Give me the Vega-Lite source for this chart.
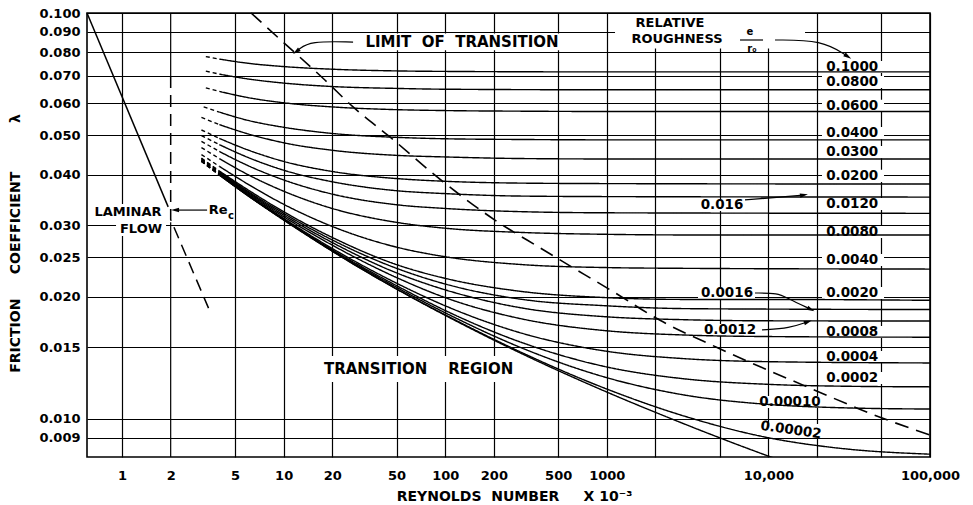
{
"$schema":"https://vega.github.io/schema/vega-lite/v6.json",
"width":843,"height":444,
"autosize":{"type":"none"},
"padding":{"left":87,"top":13,"right":43,"bottom":48},
"background":"white",
"config":{"view":{"stroke":"black","strokeWidth":1.6},"font":"DejaVu Sans","text":{"font":"DejaVu Sans","color":"black"}},
"datasets":{
"curves":[
{"eps":"0.1","part":"d","R":3.3,"lam":0.0781},{"eps":"0.1","part":"d","R":4,"lam":0.0770},
{"eps":"0.1","part":"s","R":4,"lam":0.0770},{"eps":"0.1","part":"s","R":6,"lam":0.0752},{"eps":"0.1","part":"s","R":10,"lam":0.0738},{"eps":"0.1","part":"s","R":20,"lam":0.0727},{"eps":"0.1","part":"s","R":50,"lam":0.0720},{"eps":"0.1","part":"s","R":100,"lam":0.0718},{"eps":"0.1","part":"s","R":1000,"lam":0.0716},{"eps":"0.1","part":"s","R":100000,"lam":0.0716},
{"eps":"0.08","part":"d","R":3.3,"lam":0.0719},{"eps":"0.08","part":"d","R":4,"lam":0.0707},
{"eps":"0.08","part":"s","R":4,"lam":0.0707},{"eps":"0.08","part":"s","R":6,"lam":0.0688},{"eps":"0.08","part":"s","R":10,"lam":0.0672},{"eps":"0.08","part":"s","R":20,"lam":0.0659},{"eps":"0.08","part":"s","R":50,"lam":0.0652},{"eps":"0.08","part":"s","R":100,"lam":0.0649},{"eps":"0.08","part":"s","R":1000,"lam":0.0647},{"eps":"0.08","part":"s","R":100000,"lam":0.0647},
{"eps":"0.06","part":"d","R":3.3,"lam":0.0654},{"eps":"0.06","part":"d","R":4,"lam":0.0641},
{"eps":"0.06","part":"s","R":4,"lam":0.0641},{"eps":"0.06","part":"s","R":6,"lam":0.0619},{"eps":"0.06","part":"s","R":10,"lam":0.0601},{"eps":"0.06","part":"s","R":20,"lam":0.0587},{"eps":"0.06","part":"s","R":50,"lam":0.0578},{"eps":"0.06","part":"s","R":100,"lam":0.0575},{"eps":"0.06","part":"s","R":300,"lam":0.0573},{"eps":"0.06","part":"s","R":1000,"lam":0.0572},{"eps":"0.06","part":"s","R":100000,"lam":0.0572},
{"eps":"0.04","part":"d","R":3.2,"lam":0.0587},{"eps":"0.04","part":"d","R":4,"lam":0.0570},
{"eps":"0.04","part":"s","R":4,"lam":0.0570},{"eps":"0.04","part":"s","R":6,"lam":0.0544},{"eps":"0.04","part":"s","R":10,"lam":0.0523},{"eps":"0.04","part":"s","R":20,"lam":0.0505},{"eps":"0.04","part":"s","R":50,"lam":0.0494},{"eps":"0.04","part":"s","R":100,"lam":0.0490},{"eps":"0.04","part":"s","R":300,"lam":0.0488},{"eps":"0.04","part":"s","R":1000,"lam":0.0487},{"eps":"0.04","part":"s","R":100000,"lam":0.0487},
{"eps":"0.03","part":"d","R":3.1,"lam":0.0553},{"eps":"0.03","part":"d","R":4,"lam":0.0531},
{"eps":"0.03","part":"s","R":4,"lam":0.0531},{"eps":"0.03","part":"s","R":6,"lam":0.0504},{"eps":"0.03","part":"s","R":10,"lam":0.0479},{"eps":"0.03","part":"s","R":20,"lam":0.0459},{"eps":"0.03","part":"s","R":50,"lam":0.0446},{"eps":"0.03","part":"s","R":100,"lam":0.0442},{"eps":"0.03","part":"s","R":300,"lam":0.0438},{"eps":"0.03","part":"s","R":1000,"lam":0.0437},{"eps":"0.03","part":"s","R":100000,"lam":0.0437},
{"eps":"0.02","part":"d","R":3.1,"lam":0.0515},{"eps":"0.02","part":"d","R":4,"lam":0.0491},
{"eps":"0.02","part":"s","R":4,"lam":0.0491},{"eps":"0.02","part":"s","R":6,"lam":0.0460},{"eps":"0.02","part":"s","R":10,"lam":0.0431},{"eps":"0.02","part":"s","R":20,"lam":0.0407},{"eps":"0.02","part":"s","R":50,"lam":0.0391},{"eps":"0.02","part":"s","R":100,"lam":0.0385},{"eps":"0.02","part":"s","R":300,"lam":0.0381},{"eps":"0.02","part":"s","R":1000,"lam":0.0380},{"eps":"0.02","part":"s","R":100000,"lam":0.0379},
{"eps":"0.016","part":"d","R":3.1,"lam":0.0499},{"eps":"0.016","part":"d","R":4,"lam":0.0474},
{"eps":"0.016","part":"s","R":4,"lam":0.0474},{"eps":"0.016","part":"s","R":6,"lam":0.0441},{"eps":"0.016","part":"s","R":10,"lam":0.0410},{"eps":"0.016","part":"s","R":20,"lam":0.0384},{"eps":"0.016","part":"s","R":50,"lam":0.0365},{"eps":"0.016","part":"s","R":100,"lam":0.0359},{"eps":"0.016","part":"s","R":300,"lam":0.0354},{"eps":"0.016","part":"s","R":1000,"lam":0.0353},{"eps":"0.016","part":"s","R":100000,"lam":0.0352},
{"eps":"0.012","part":"d","R":3.1,"lam":0.0483},{"eps":"0.012","part":"d","R":4,"lam":0.0456},
{"eps":"0.012","part":"s","R":4,"lam":0.0456},{"eps":"0.012","part":"s","R":6,"lam":0.0421},{"eps":"0.012","part":"s","R":10,"lam":0.0388},{"eps":"0.012","part":"s","R":20,"lam":0.0358},{"eps":"0.012","part":"s","R":50,"lam":0.0337},{"eps":"0.012","part":"s","R":100,"lam":0.0330},{"eps":"0.012","part":"s","R":300,"lam":0.0324},{"eps":"0.012","part":"s","R":1000,"lam":0.0322},{"eps":"0.012","part":"s","R":100000,"lam":0.0321},
{"eps":"0.008","part":"d","R":3.1,"lam":0.0466},{"eps":"0.008","part":"d","R":4,"lam":0.0438},
{"eps":"0.008","part":"s","R":4,"lam":0.0438},{"eps":"0.008","part":"s","R":6,"lam":0.0400},{"eps":"0.008","part":"s","R":10,"lam":0.0364},{"eps":"0.008","part":"s","R":20,"lam":0.0330},{"eps":"0.008","part":"s","R":50,"lam":0.0305},{"eps":"0.008","part":"s","R":100,"lam":0.0295},{"eps":"0.008","part":"s","R":300,"lam":0.0288},{"eps":"0.008","part":"s","R":1000,"lam":0.0285},{"eps":"0.008","part":"s","R":3000,"lam":0.0284},{"eps":"0.008","part":"s","R":100000,"lam":0.0284},
{"eps":"0.004","part":"d","R":3.1,"lam":0.0448},{"eps":"0.004","part":"d","R":4,"lam":0.0419},
{"eps":"0.004","part":"s","R":4,"lam":0.0419},{"eps":"0.004","part":"s","R":6,"lam":0.0379},{"eps":"0.004","part":"s","R":10,"lam":0.0338},{"eps":"0.004","part":"s","R":20,"lam":0.0298},{"eps":"0.004","part":"s","R":50,"lam":0.0265},{"eps":"0.004","part":"s","R":100,"lam":0.0251},{"eps":"0.004","part":"s","R":300,"lam":0.0240},{"eps":"0.004","part":"s","R":1000,"lam":0.0236},{"eps":"0.004","part":"s","R":3000,"lam":0.0235},{"eps":"0.004","part":"s","R":100000,"lam":0.0234},
{"eps":"0.002","part":"d","R":3.1,"lam":0.0439},{"eps":"0.002","part":"d","R":4,"lam":0.0408},
{"eps":"0.002","part":"s","R":4,"lam":0.0408},{"eps":"0.002","part":"s","R":6,"lam":0.0367},{"eps":"0.002","part":"s","R":10,"lam":0.0324},{"eps":"0.002","part":"s","R":20,"lam":0.0280},{"eps":"0.002","part":"s","R":50,"lam":0.0240},{"eps":"0.002","part":"s","R":100,"lam":0.0222},{"eps":"0.002","part":"s","R":300,"lam":0.0206},{"eps":"0.002","part":"s","R":1000,"lam":0.0199},{"eps":"0.002","part":"s","R":3000,"lam":0.0197},{"eps":"0.002","part":"s","R":10000,"lam":0.0197},{"eps":"0.002","part":"s","R":100000,"lam":0.0196},
{"eps":"0.0016","part":"d","R":3.1,"lam":0.0438},{"eps":"0.0016","part":"d","R":4,"lam":0.0407},
{"eps":"0.0016","part":"s","R":4,"lam":0.0407},{"eps":"0.0016","part":"s","R":6,"lam":0.0364},{"eps":"0.0016","part":"s","R":10,"lam":0.0321},{"eps":"0.0016","part":"s","R":20,"lam":0.0276},{"eps":"0.0016","part":"s","R":50,"lam":0.0235},{"eps":"0.0016","part":"s","R":100,"lam":0.0215},{"eps":"0.0016","part":"s","R":300,"lam":0.0197},{"eps":"0.0016","part":"s","R":1000,"lam":0.0190},{"eps":"0.0016","part":"s","R":3000,"lam":0.0187},{"eps":"0.0016","part":"s","R":10000,"lam":0.01865},{"eps":"0.0016","part":"s","R":100000,"lam":0.0186},
{"eps":"0.0012","part":"d","R":3.1,"lam":0.0436},{"eps":"0.0012","part":"d","R":4,"lam":0.0405},
{"eps":"0.0012","part":"s","R":4,"lam":0.0405},{"eps":"0.0012","part":"s","R":6,"lam":0.0362},{"eps":"0.0012","part":"s","R":10,"lam":0.0318},{"eps":"0.0012","part":"s","R":20,"lam":0.0272},{"eps":"0.0012","part":"s","R":50,"lam":0.0229},{"eps":"0.0012","part":"s","R":100,"lam":0.0208},{"eps":"0.0012","part":"s","R":300,"lam":0.01876},{"eps":"0.0012","part":"s","R":1000,"lam":0.01785},{"eps":"0.0012","part":"s","R":3000,"lam":0.01756},{"eps":"0.0012","part":"s","R":10000,"lam":0.01745},{"eps":"0.0012","part":"s","R":100000,"lam":0.01743},
{"eps":"0.0008","part":"d","R":3.1,"lam":0.0435},{"eps":"0.0008","part":"d","R":4,"lam":0.0403},
{"eps":"0.0008","part":"s","R":4,"lam":0.0403},{"eps":"0.0008","part":"s","R":6,"lam":0.0360},{"eps":"0.0008","part":"s","R":10,"lam":0.0315},{"eps":"0.0008","part":"s","R":20,"lam":0.0268},{"eps":"0.0008","part":"s","R":50,"lam":0.0223},{"eps":"0.0008","part":"s","R":100,"lam":0.0199},{"eps":"0.0008","part":"s","R":300,"lam":0.01763},{"eps":"0.0008","part":"s","R":1000,"lam":0.01649},{"eps":"0.0008","part":"s","R":3000,"lam":0.0161},{"eps":"0.0008","part":"s","R":10000,"lam":0.01596},{"eps":"0.0008","part":"s","R":100000,"lam":0.0159},
{"eps":"0.0004","part":"d","R":3.1,"lam":0.0433},{"eps":"0.0004","part":"d","R":4,"lam":0.0401},
{"eps":"0.0004","part":"s","R":4,"lam":0.0401},{"eps":"0.0004","part":"s","R":6,"lam":0.0358},{"eps":"0.0004","part":"s","R":10,"lam":0.0312},{"eps":"0.0004","part":"s","R":20,"lam":0.0263},{"eps":"0.0004","part":"s","R":50,"lam":0.0216},{"eps":"0.0004","part":"s","R":100,"lam":0.0190},{"eps":"0.0004","part":"s","R":300,"lam":0.01625},{"eps":"0.0004","part":"s","R":1000,"lam":0.01468},{"eps":"0.0004","part":"s","R":3000,"lam":0.01408},{"eps":"0.0004","part":"s","R":10000,"lam":0.01384},{"eps":"0.0004","part":"s","R":100000,"lam":0.01374},
{"eps":"0.0002","part":"d","R":3.1,"lam":0.0432},{"eps":"0.0002","part":"d","R":4,"lam":0.0400},
{"eps":"0.0002","part":"s","R":4,"lam":0.0400},{"eps":"0.0002","part":"s","R":6,"lam":0.0356},{"eps":"0.0002","part":"s","R":10,"lam":0.0310},{"eps":"0.0002","part":"s","R":20,"lam":0.0261},{"eps":"0.0002","part":"s","R":50,"lam":0.0213},{"eps":"0.0002","part":"s","R":100,"lam":0.0185},{"eps":"0.0002","part":"s","R":300,"lam":0.01541},{"eps":"0.0002","part":"s","R":1000,"lam":0.01343},{"eps":"0.0002","part":"s","R":3000,"lam":0.01256},{"eps":"0.0002","part":"s","R":10000,"lam":0.01217},{"eps":"0.0002","part":"s","R":30000,"lam":0.01204},{"eps":"0.0002","part":"s","R":100000,"lam":0.0120},
{"eps":"0.0001","part":"d","R":3.1,"lam":0.0432},{"eps":"0.0001","part":"d","R":4,"lam":0.0400},
{"eps":"0.0001","part":"s","R":4,"lam":0.0400},{"eps":"0.0001","part":"s","R":6,"lam":0.0356},{"eps":"0.0001","part":"s","R":10,"lam":0.0310},{"eps":"0.0001","part":"s","R":20,"lam":0.0260},{"eps":"0.0001","part":"s","R":50,"lam":0.0211},{"eps":"0.0001","part":"s","R":100,"lam":0.01826},{"eps":"0.0001","part":"s","R":300,"lam":0.01494},{"eps":"0.0001","part":"s","R":1000,"lam":0.01264},{"eps":"0.0001","part":"s","R":3000,"lam":0.01146},{"eps":"0.0001","part":"s","R":10000,"lam":0.01086},{"eps":"0.0001","part":"s","R":30000,"lam":0.01065},{"eps":"0.0001","part":"s","R":100000,"lam":0.01058},
{"eps":"0.00002","part":"d","R":3.1,"lam":0.0431},{"eps":"0.00002","part":"d","R":4,"lam":0.0399},
{"eps":"0.00002","part":"s","R":4,"lam":0.0399},{"eps":"0.00002","part":"s","R":6,"lam":0.0355},{"eps":"0.00002","part":"s","R":10,"lam":0.0310},{"eps":"0.00002","part":"s","R":20,"lam":0.0259},{"eps":"0.00002","part":"s","R":50,"lam":0.0209},{"eps":"0.00002","part":"s","R":100,"lam":0.01805},{"eps":"0.00002","part":"s","R":300,"lam":0.01455},{"eps":"0.00002","part":"s","R":1000,"lam":0.01185},{"eps":"0.00002","part":"s","R":3000,"lam":0.01017},{"eps":"0.00002","part":"s","R":10000,"lam":0.00899},{"eps":"0.00002","part":"s","R":30000,"lam":0.00844},{"eps":"0.00002","part":"s","R":100000,"lam":0.00819},
{"eps":"smooth","part":"d","R":3.1,"lam":0.0431},{"eps":"smooth","part":"d","R":4,"lam":0.0399},
{"eps":"smooth","part":"s","R":4,"lam":0.0399},{"eps":"smooth","part":"s","R":6,"lam":0.0355},{"eps":"smooth","part":"s","R":10,"lam":0.0309},{"eps":"smooth","part":"s","R":20,"lam":0.0259},{"eps":"smooth","part":"s","R":50,"lam":0.0209},{"eps":"smooth","part":"s","R":100,"lam":0.0180},{"eps":"smooth","part":"s","R":300,"lam":0.01446},{"eps":"smooth","part":"s","R":1000,"lam":0.01165},{"eps":"smooth","part":"s","R":3000,"lam":0.00973},{"eps":"smooth","part":"s","R":10000,"lam":0.00810},{"eps":"smooth","part":"s","R":12000,"lam":0.00789}
],
"limit":[
{"o":0,"R":6.29,"lam":0.1},{"o":1,"R":9.92,"lam":0.0848},{"o":2,"R":18.0,"lam":0.0684},{"o":3,"R":26.9,"lam":0.0587},{"o":4,"R":45.5,"lam":0.0495},{"o":5,"R":96.9,"lam":0.0384},{"o":6,"R":203,"lam":0.0309},{"o":7,"R":386,"lam":0.0264},{"o":8,"R":492,"lam":0.0249},{"o":9,"R":1092,"lam":0.0206},{"o":10,"R":2134,"lam":0.0175},{"o":11,"R":4809,"lam":0.0150},{"o":12,"R":17330,"lam":0.0120},{"o":13,"R":49060,"lam":0.0101},{"o":14,"R":100000,"lam":0.00913}
],
"rec":[{"o":0,"R":2,"lam":0.07},{"o":1,"R":2,"lam":0.031},{"o":2,"R":3.5,"lam":0.0184}],
"laminar":[{"o":0,"R":0.607,"lam":0.1},{"o":1,"R":1.93,"lam":0.0333}],
"grid2":[{"R":2,"lam":0.07,"lam2":0.1},{"R":2,"lam":0.00806,"lam2":0.0305}],
"boxes":[
{"R":24.0,"R2":636,"lam":0.0809,"lam2":0.0890},
{"R":1124,"R2":16850,"lam":0.0818,"lam2":0.0994},
{"R":13.6,"R2":335,"lam":0.01234,"lam2":0.01429},
{"R":0.616,"R2":1.899,"lam":0.0309,"lam2":0.03386},
{"R":0.918,"R2":1.872,"lam":0.02823,"lam2":0.0309},
{"R":21460,"R2":51930,"lam":0.07116,"lam2":0.07617},
{"R":21460,"R2":51930,"lam":0.06534,"lam2":0.06996},
{"R":21460,"R2":51930,"lam":0.0571,"lam2":0.0611},
{"R":21460,"R2":51930,"lam":0.0489,"lam2":0.0524},
{"R":21460,"R2":51930,"lam":0.0439,"lam2":0.0470},
{"R":21460,"R2":51930,"lam":0.03835,"lam2":0.0411},
{"R":21460,"R2":51930,"lam":0.03271,"lam2":0.0350},
{"R":21460,"R2":51930,"lam":0.02791,"lam2":0.02988},
{"R":21460,"R2":51930,"lam":0.02381,"lam2":0.02549},
{"R":21460,"R2":51930,"lam":0.01975,"lam2":0.02114},
{"R":21460,"R2":51930,"lam":0.01583,"lam2":0.01695},
{"R":21460,"R2":51930,"lam":0.01373,"lam2":0.01470},
{"R":21460,"R2":51930,"lam":0.0122,"lam2":0.01306},
{"R":3773,"R2":7165,"lam":0.03253,"lam2":0.03482},
{"R":3668,"R2":8262,"lam":0.01975,"lam2":0.02114},
{"R":3773,"R2":8872,"lam":0.01601,"lam2":0.01714},
{"R":8262,"R2":22400,"lam":0.01064,"lam2":0.01139},
{"R":8262,"R2":23380,"lam":0.00898,"lam2":0.00972}
],
"arrows":[
{"id":"limit","o":0,"R":26.9,"lam":0.0848},{"id":"limit","o":1,"R":14.57,"lam":0.0853},{"id":"limit","o":2,"R":12.28,"lam":0.0811},
{"id":"rec","o":0,"R":3.36,"lam":0.0327},{"id":"rec","o":1,"R":2.2,"lam":0.0327},
{"id":"bar","o":0,"R":6674,"lam":0.0858},{"id":"bar","o":1,"R":9262,"lam":0.0858},
{"id":"rough","o":0,"R":10986,"lam":0.0858},{"id":"rough","o":1,"R":21460,"lam":0.0858},{"id":"rough","o":2,"R":30650,"lam":0.0784},
{"id":"a016","o":0,"R":7165,"lam":0.03463},{"id":"a016","o":1,"R":16374,"lam":0.0356},
{"id":"a0016","o":0,"R":8260,"lam":0.02043},{"id":"a0016","o":1,"R":11465,"lam":0.02043},{"id":"a0016","o":2,"R":13030,"lam":0.01987},{"id":"a0016","o":3,"R":18090,"lam":0.01866},
{"id":"a0012","o":0,"R":9130,"lam":0.01657},{"id":"a0012","o":1,"R":13605,"lam":0.01675},{"id":"a0012","o":2,"R":17336,"lam":0.01733}
],
"heads":[
{"id":"limit","R":12.1,"lam":0.0806},
{"id":"rec","R":2.16,"lam":0.0327},
{"id":"rough","R":30650,"lam":0.0784},
{"id":"a016","R":16374,"lam":0.0356},
{"id":"a0016","R":18090,"lam":0.01866},
{"id":"a0012","R":17336,"lam":0.01733}
],
"bigtext":[
{"t":"LIMIT\u00a0\u00a0OF\u00a0\u00a0TRANSITION","R":127,"lam":0.0848},
{"t":"TRANSITION\u00a0\u00a0\u00a0\u00a0REGION","R":68.4,"lam":0.01328}
],
"midtext":[
{"t":"RELATIVE","R":2461,"lam":0.0945},
{"t":"ROUGHNESS","R":2719,"lam":0.0863},
{"t":"LAMINAR","R":1.089,"lam":0.03235},
{"t":"FLOW","R":1.31,"lam":0.02938},
{"t":"Re","R":3.93,"lam":0.0327}
],
"smalltext":[
{"t":"c","R":4.73,"lam":0.0316},
{"t":"e","R":7690,"lam":0.0898},
{"t":"r₀","R":7915,"lam":0.0815}
],
"labels":[
{"t":"0.1000","R":33000,"lam":0.0736},
{"t":"0.0800","R":33000,"lam":0.0676},
{"t":"0.0600","R":33000,"lam":0.0590},
{"t":"0.0400","R":33000,"lam":0.0506},
{"t":"0.0300","R":33000,"lam":0.04546},
{"t":"0.0200","R":33000,"lam":0.03968},
{"t":"0.0120","R":33000,"lam":0.03386},
{"t":"0.0080","R":33000,"lam":0.02888},
{"t":"0.0040","R":33000,"lam":0.02464},
{"t":"0.0020","R":33000,"lam":0.02043},
{"t":"0.0008","R":33000,"lam":0.01637},
{"t":"0.0004","R":33000,"lam":0.01421},
{"t":"0.0002","R":33000,"lam":0.01262},
{"t":"0.016","R":5163,"lam":0.03365},
{"t":"0.0016","R":5543,"lam":0.02043},
{"t":"0.0012","R":5786,"lam":0.01657},
{"t":"0.00010","R":13605,"lam":0.01101}
],
"rot":[{"t":"0.00002","R":13800,"lam":0.00939}]
},
"encoding":{
"x":{"field":"R","type":"quantitative","scale":{"type":"log","domain":[0.607,100000],"nice":false,"zero":false},
 "axis":{"values":[1,2,5,10,20,50,100,200,500,1000,2000,5000,10000,20000,50000,100000],
  "labelExpr":"indexof([2000,5000,20000,50000], datum.value) >= 0 ? '' : (datum.value >= 10000 ? format(datum.value, ',') : format(datum.value, 'd'))",
  "grid":true,"gridColor":"black","gridWidth":1.2,
  "gridOpacity":{"condition":{"test":"datum.value == 2","value":0},"value":1},
  "ticks":false,"domain":false,"labelPadding":12,"labelFontSize":13,"labelFontWeight":"bold","labelColor":"black","labelFont":"DejaVu Sans",
  "labelFlush":false,"labelOverlap":false,"labelBound":false,
  "title":"REYNOLDS\u00a0\u00a0NUMBER\u00a0\u00a0\u00a0\u00a0\u00a0X\u00a010⁻³","titleFontSize":14,"titleFontWeight":"bold","titleColor":"black","titleFont":"DejaVu Sans",
  "titleY":39,"titleX":427,"titleBaseline":"middle"}},
"y":{"field":"lam","type":"quantitative","scale":{"type":"log","domain":[0.00806,0.1],"nice":false,"zero":false},
 "axis":{"values":[0.1,0.09,0.08,0.07,0.06,0.05,0.04,0.03,0.025,0.02,0.015,0.01,0.009],"format":".3f",
  "grid":true,"gridColor":"black","gridWidth":1.2,"ticks":false,"domain":false,"labelPadding":7,
  "labelFontSize":13,"labelFontWeight":"bold","labelColor":"black","labelFont":"DejaVu Sans","labelOverlap":false,"labelBound":false,"labelFlush":false,
  "title":"FRICTION\u00a0\u00a0\u00a0\u00a0\u00a0COEFFICIENT\u00a0\u00a0\u00a0\u00a0\u00a0\u00a0\u00a0\u00a0\u00a0\u00a0λ","titleFontSize":14,"titleFontWeight":"bold","titleColor":"black","titleFont":"DejaVu Sans",
  "titleAngle":270,"titleX":-72,"titleY":230,"titleAlign":"center","titleBaseline":"middle"}}
},
"layer":[
{"data":{"name":"boxes"},"mark":{"type":"rect","color":"white","strokeWidth":0},"encoding":{"x2":{"field":"R2"},"y2":{"field":"lam2"}}},
{"data":{"name":"grid2"},"mark":{"type":"rule","color":"black","strokeWidth":1.2},"encoding":{"y2":{"field":"lam2"}}},
{"data":{"name":"curves"},"mark":{"type":"line","color":"black","strokeWidth":1.4,"interpolate":"monotone","clip":true},
 "encoding":{"detail":{"field":"eps"},"strokeDash":{"field":"part","type":"nominal","scale":{"domain":["d","s"],"range":[[4,3],[1,0]]},"legend":null}}},
{"data":{"name":"limit"},"mark":{"type":"line","color":"black","strokeWidth":1.6,"strokeDash":[14,8],"interpolate":"monotone"},"encoding":{"order":{"field":"o"}}},
{"data":{"name":"rec"},"mark":{"type":"line","color":"black","strokeWidth":1.5,"strokeDash":[12,7]},"encoding":{"order":{"field":"o"}}},
{"data":{"name":"laminar"},"mark":{"type":"line","color":"black","strokeWidth":1.5},"encoding":{"order":{"field":"o"}}},
{"data":{"name":"arrows"},"mark":{"type":"line","color":"black","strokeWidth":1.2,"interpolate":"basis"},"encoding":{"detail":{"field":"id"},"order":{"field":"o"}}},
{"data":{"name":"heads"},"transform":[{"filter":"datum.id == 'limit'"}],"mark":{"type":"point","shape":"M0,-1L0.45,0.6L-0.45,0.6Z","filled":true,"color":"black","opacity":1,"size":100,"angle":232}},
{"data":{"name":"heads"},"transform":[{"filter":"datum.id == 'rec'"}],"mark":{"type":"point","shape":"M0,-1L0.45,0.6L-0.45,0.6Z","filled":true,"color":"black","opacity":1,"size":100,"angle":270}},
{"data":{"name":"heads"},"transform":[{"filter":"datum.id == 'rough'"}],"mark":{"type":"point","shape":"M0,-1L0.45,0.6L-0.45,0.6Z","filled":true,"color":"black","opacity":1,"size":100,"angle":123}},
{"data":{"name":"heads"},"transform":[{"filter":"datum.id == 'a016'"}],"mark":{"type":"point","shape":"M0,-1L0.45,0.6L-0.45,0.6Z","filled":true,"color":"black","opacity":1,"size":100,"angle":80}},
{"data":{"name":"heads"},"transform":[{"filter":"datum.id == 'a0016'"}],"mark":{"type":"point","shape":"M0,-1L0.45,0.6L-0.45,0.6Z","filled":true,"color":"black","opacity":1,"size":100,"angle":116}},
{"data":{"name":"heads"},"transform":[{"filter":"datum.id == 'a0012'"}],"mark":{"type":"point","shape":"M0,-1L0.45,0.6L-0.45,0.6Z","filled":true,"color":"black","opacity":1,"size":100,"angle":71}},
{"data":{"name":"bigtext"},"mark":{"type":"text","fontSize":15,"fontWeight":"bold","align":"center","baseline":"middle","color":"black"},"encoding":{"text":{"field":"t"}}},
{"data":{"name":"midtext"},"mark":{"type":"text","fontSize":13,"fontWeight":"bold","align":"center","baseline":"middle","color":"black"},"encoding":{"text":{"field":"t"}}},
{"data":{"name":"smalltext"},"mark":{"type":"text","fontSize":10,"fontWeight":"bold","align":"center","baseline":"middle","color":"black"},"encoding":{"text":{"field":"t"}}},
{"data":{"name":"labels"},"mark":{"type":"text","fontSize":13.5,"fontWeight":"bold","align":"center","baseline":"middle","color":"black"},"encoding":{"text":{"field":"t"}}},
{"data":{"name":"rot"},"mark":{"type":"text","fontSize":13.5,"fontWeight":"bold","align":"center","baseline":"middle","color":"black","angle":8},"encoding":{"text":{"field":"t"}}}
]
}
